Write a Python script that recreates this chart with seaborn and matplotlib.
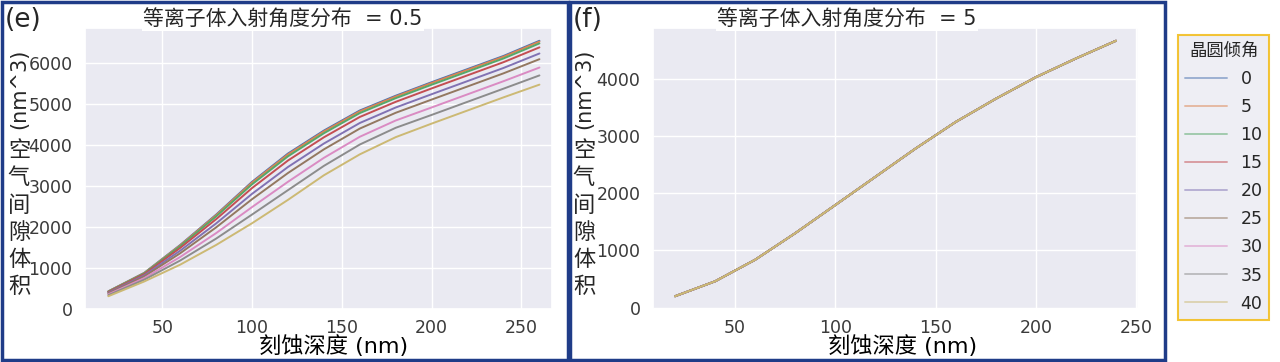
import pandas as pd
import matplotlib
matplotlib.use("Agg")
import matplotlib.pyplot as plt
import seaborn as sns
from matplotlib.patches import Rectangle

# =========================
# DATA
# =========================

depth_left = [20, 40, 60, 80, 100, 120, 140, 160, 180, 200, 220, 240, 260]
depth_right = [20, 40, 60, 80, 100, 120, 140, 160, 180, 200, 220, 240]
tilt_angles = ["0", "5", "10", "15", "20", "25", "30", "35", "40"]

# plasma angle spread = 0.5, one curve per wafer tilt
vol_tilt_0 = [420, 870, 1550, 2290, 3090, 3780, 4340, 4830, 5190, 5520, 5840, 6160, 6530]
vol_tilt_5 = [418, 866, 1540, 2275, 3070, 3757, 4318, 4809, 5170, 5500, 5820, 6140, 6509]
vol_tilt_10 = [413, 857, 1521, 2246, 3029, 3712, 4275, 4767, 5131, 5459, 5779, 6099, 6466]
vol_tilt_15 = [402, 838, 1478, 2179, 2938, 3610, 4176, 4672, 5041, 5368, 5688, 6008, 6369]
vol_tilt_20 = [385, 809, 1411, 2075, 2797, 3452, 4024, 4525, 4903, 5227, 5547, 5867, 6220]
vol_tilt_25 = [370, 782, 1348, 1979, 2666, 3305, 3882, 4389, 4774, 5096, 5416, 5736, 6081]
vol_tilt_30 = [347, 742, 1257, 1839, 2474, 3091, 3675, 4189, 4586, 4904, 5224, 5544, 5877]
vol_tilt_35 = [325, 704, 1171, 1705, 2292, 2887, 3479, 4000, 4408, 4722, 5042, 5362, 5685]
vol_tilt_40 = [300, 660, 1070, 1550, 2080, 2650, 3250, 3760, 4180, 4510, 4830, 5150, 5460]

# plasma angle spread = 5, all tilts give the same curve
vol_spread_5 = [197, 458, 835, 1299, 1791, 2284, 2777, 3241, 3646, 4023, 4350, 4660]

left_series = [vol_tilt_0, vol_tilt_5, vol_tilt_10, vol_tilt_15, vol_tilt_20,
               vol_tilt_25, vol_tilt_30, vol_tilt_35, vol_tilt_40]

rows = []
for tilt, vals in zip(tilt_angles, left_series):
    for d, v in zip(depth_left, vals):
        rows.append({"depth": d, "volume": v, "tilt": tilt})
df_left = pd.DataFrame(rows)

rows = []
for tilt in tilt_angles:
    for d, v in zip(depth_right, vol_spread_5):
        rows.append({"depth": d, "volume": v, "tilt": tilt})
df_right = pd.DataFrame(rows)

# =========================
# STYLE
# =========================

sns.set_theme(style="darkgrid")
plt.rcParams['font.family'] = ['DejaVu Sans', 'Noto Sans CJK SC']
plt.rcParams['axes.unicode_minus'] = False

palette = sns.color_palette("deep", 9)
W, H = 1280, 362

fig = plt.figure(figsize=(12.8, 3.62), dpi=100)

ax1 = fig.add_axes([85 / W, 1 - 309 / H, 467 / W, 281 / H])
ax2 = fig.add_axes([653 / W, 1 - 309 / H, 485 / W, 281 / H])

sns.lineplot(data=df_left, x="depth", y="volume", hue="tilt", hue_order=tilt_angles,
             palette=palette, linewidth=1.4, ax=ax1)
sns.lineplot(data=df_right, x="depth", y="volume", hue="tilt", hue_order=tilt_angles,
             palette=palette, linewidth=1.4, ax=ax2, legend=False)

handles, labels = ax1.get_legend_handles_labels()
ax1.get_legend().remove()

ax1.set_xlim(7, 267)
ax1.set_xticks([50, 100, 150, 200, 250])
ax1.set_yticks([0, 1000, 2000, 3000, 4000, 5000, 6000])
ax2.set_xticks([50, 100, 150, 200, 250])
ax2.set_yticks([0, 1000, 2000, 3000, 4000])

titles = ["等离子体入射角度分布  = 0.5", "等离子体入射角度分布  = 5"]
title_x = [0.424, 0.40]
xlabel_x = [0.533, 0.515]
for ax, t, tx, lx in zip([ax1, ax2], titles, title_x, xlabel_x):
    ax.set_xlabel("刻蚀深度 (nm)", fontsize=16, color="black")
    ax.xaxis.set_label_coords(lx, -0.092)
    ax.set_ylabel("")
    ax.tick_params(axis="both", labelsize=12.5, colors="#3a3a3a", pad=3)
    ax.tick_params(axis="x", pad=1.5)
    ax.set_title(t, fontsize=15, x=tx, y=1.0, pad=2,
                 bbox=dict(facecolor="white", edgecolor="none", pad=1.0))

# stacked y labels: upright Chinese characters plus rotated unit
for xc in [19, 584]:
    fig.text(xc / W, 1 - 129 / H, "(nm^3)", rotation=90, fontsize=15,
             ha="center", va="bottom")
    fig.text(xc / W, 1 - 219 / H, "空\n气\n间\n隙\n体\n积", fontsize=16,
             ha="center", va="center", linespacing=1.4)

# panel letters
fig.text(5 / W, 1 - 7 / H, "(e)", fontsize=19, ha="left", va="top")
fig.text(573 / W, 1 - 7 / H, "(f)", fontsize=19, ha="left", va="top")

# blue frames round each panel
for x0, x1 in [(2, 568), (570, 1165)]:
    fig.patches.append(Rectangle((x0 / W, 2 / H), (x1 - x0) / W, (H - 4) / H,
                                 transform=fig.transFigure, fill=False,
                                 edgecolor="#1f3c88", linewidth=2.5))

# legend
leg = fig.legend(handles, labels, title="晶圆倾角", loc="upper left",
                 bbox_to_anchor=(1178 / W, 1 - 35 / H), fontsize=12.5,
                 title_fontsize=12.5, handlelength=2.4, labelspacing=0.58,
                 frameon=True, fancybox=False, borderaxespad=0)
leg.get_frame().set_edgecolor("#f2b705")
leg.get_frame().set_linewidth(1.5)
leg.get_frame().set_facecolor("#eaeaf2")
for line in leg.get_lines():
    line.set_alpha(0.5)

plt.savefig("out.png", dpi=100)
